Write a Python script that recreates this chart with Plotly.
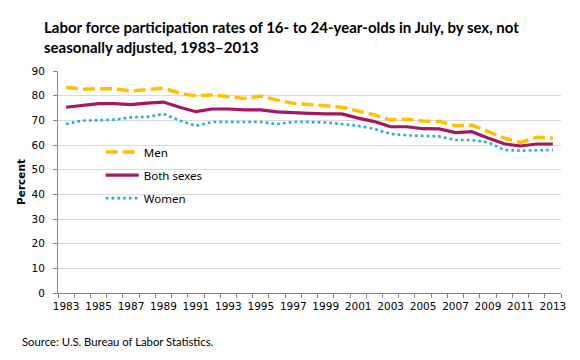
import plotly.graph_objects as go

years = list(range(1983, 2014))
men = [83.4, 82.6, 82.8, 82.8, 81.9, 82.6, 83.0, 81.0, 79.9, 80.3, 79.6, 78.9, 79.9, 78.2, 76.9, 76.5,
       75.9, 75.3, 73.9, 72.2, 70.1, 70.4, 69.7, 69.5, 67.8, 68.1, 65.5, 62.8, 61.0, 63.1, 62.8]
both = [75.3, 76.2, 76.8, 76.8, 76.4, 77.0, 77.4, 75.3, 73.5, 74.6, 74.6, 74.2, 74.2, 73.4, 73.0, 72.8,
        72.6, 72.6, 70.9, 69.5, 67.4, 67.4, 66.6, 66.5, 65.0, 65.4, 62.8, 60.5, 59.6, 60.4, 60.4]
women = [68.5, 69.9, 70.0, 70.3, 71.2, 71.4, 72.6, 69.9, 67.8, 69.3, 69.3, 69.3, 69.3, 68.5, 69.3, 69.3,
         69.1, 68.5, 67.8, 66.5, 64.5, 63.9, 63.6, 63.5, 62.0, 62.0, 61.1, 58.0, 57.7, 58.0, 58.0]
tick_years = list(range(1983, 2014, 2))
y_ticks = list(range(0, 91, 10))

title_text = ("Labor force participation rates of 16- to 24-year-olds in July, by sex, not<br>"
              "seasonally adjusted, 1983\u20132013")

# The page body has an 8px margin, so the figure is drawn 8px in from the window corner.
W, H = 572, 352

fig = go.Figure()
fig.add_trace(go.Scatter(x=years, y=men, mode="lines", name="Men", legendgroup="m",
                         line=dict(color="#FFC000", width=3.5, dash="12px,5px")))
fig.add_trace(go.Scatter(x=years, y=both, mode="lines", name="Both sexes", legendgroup="b",
                         line=dict(color="#A5175E", width=3.2)))
fig.add_trace(go.Scatter(x=years, y=women, mode="lines", name="Women", legendgroup="w",
                         line=dict(color="#1CAAE0", width=2.6, dash="2.6px,3.2px")))

fig.update_layout(
    width=W, height=H,
    margin=dict(l=50, r=19, t=63, b=67),
    paper_bgcolor="white", plot_bgcolor="white",
    showlegend=True,
    legend=dict(x=0.085, y=0.70, xanchor="left", yanchor="top", bgcolor="rgba(0,0,0,0)",
                font=dict(family="Noto Sans", size=11.5, color="#000000"),
                tracegroupgap=4, itemwidth=33),
    xaxis=dict(range=[1982.5, 2013.5], tickmode="array", tickvals=tick_years,
               ticktext=[str(y) for y in tick_years], ticks="", showgrid=False,
               showline=True, linecolor="#868686", linewidth=1, zeroline=False,
               tickfont=dict(family="DejaVu Sans", size=10.5, color="#000000"),
               ticklabelstandoff=3,
               minor=dict(tickmode="linear", tick0=1982.5, dtick=1, ticks="outside",
                          ticklen=4, tickcolor="#868686", showgrid=False),
               fixedrange=True),
    yaxis=dict(range=[0, 90], tickmode="array", tickvals=y_ticks, ticks="outside", ticklen=4,
               tickcolor="#868686", showline=True, linecolor="#868686", linewidth=1,
               showgrid=True, gridcolor="#D9D9D9", gridwidth=1, zeroline=False,
               tickfont=dict(family="DejaVu Sans", size=10.5, color="#000000"),
               ticklabelstandoff=6,
               title=dict(text="<b>Percent</b>", standoff=3,
                          font=dict(family="DejaVu Sans", size=10.5, color="#000000")),
               fixedrange=True),
)

fig.add_annotation(text="<b>" + title_text.replace("<br>", "</b><br><b>") + "</b>",
                   xref="paper", yref="paper", align="left",
                   x=-16/503, y=1 + 55/222, xanchor="left", yanchor="top", showarrow=False,
                   font=dict(family="Lato", size=15.0, color="#000000"))

fig.add_annotation(text="Source: U.S. Bureau of Labor Statistics.", xref="paper", yref="paper",
                   x=-38/503, y=-40/222, xanchor="left", yanchor="top", showarrow=False,
                   font=dict(family="Lato", size=11.3, color="#000000"))

fig.write_html("out.html")
